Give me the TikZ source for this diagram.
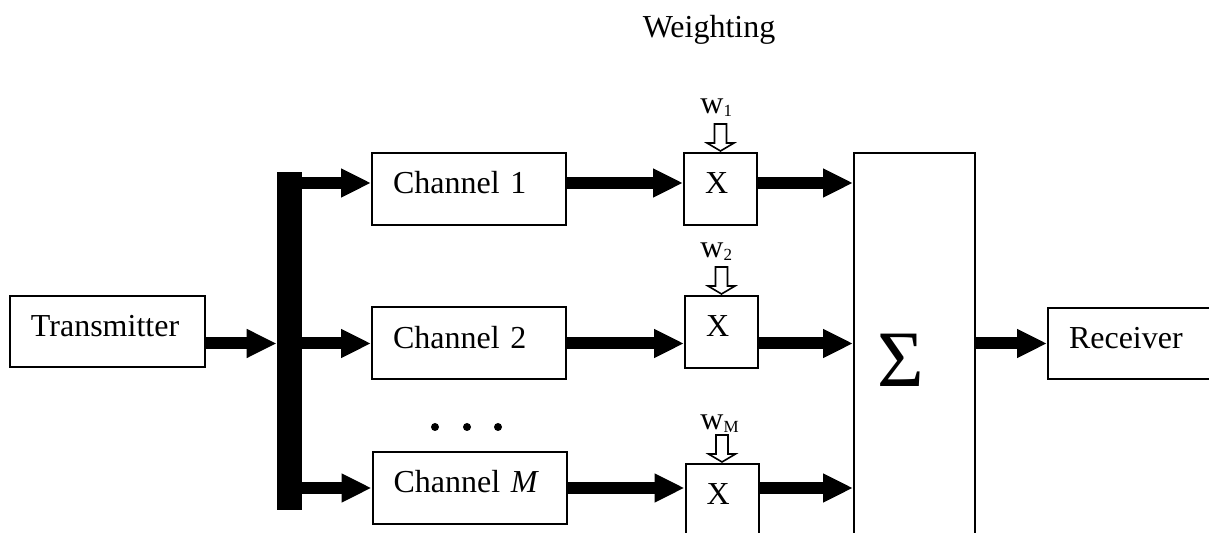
\documentclass[tikz,border=0pt]{standalone}
\usepackage{fontspec}
\setmainfont{Liberation Serif}
\usetikzlibrary{arrows.meta,calc}
\tikzset{
  blk/.style={draw, line width=1pt, rectangle, inner xsep=10.5pt, inner ysep=0pt,
    align=left, text height=11pt, text depth=6.4pt,
    font=\fontsize{16}{19}\selectfont},
  chbox/.style={blk, text width=76pt, minimum height=36pt},
  mulbox/.style={blk, text width=15.5pt, minimum height=36pt},
  bigarrow/.style={line width=6pt, -{Triangle[length=15pt,width=13.5pt]}},
  wlab/.style={inner sep=0pt, anchor=base west, font=\fontsize{16}{19}\selectfont},
  dotnode/.style={circle, fill=black, inner sep=0pt, minimum size=4pt},
  hollow/.style={draw, line width=0.8pt, fill=white}
}
\newcommand{\wsub}[1]{\raisebox{-1.2pt}{\fontsize{8.5}{9}\selectfont #1}}
\newcommand{\wgtarrow}[1]{\draw[hollow] ($(#1.north)+(0,1)$) -- ++(-13.5,8) -- ++(7.5,0) -- ++(0,19) -- ++(12,0) -- ++(0,-19) -- ++(7.5,0) -- cycle;}
\begin{document}
\begin{tikzpicture}[x=0.5pt,y=0.5pt]
\useasboundingbox (0,0) rectangle (1209,533);
\clip (0,0) rectangle (1209,533);

% title
\node[inner sep=0pt, anchor=base, font=\fontsize{16}{19}\selectfont] (title) at (709,495) {Weighting};

% blocks
\node[blk, text width=76.5pt, minimum height=35.5pt] (tx) at (107.5,201.5) {Transmitter};
\node[fill=black, inner sep=0pt, minimum width=12.5pt, minimum height=169pt] (bus) at (289.5,192) {};
\node[chbox] (ch1) at (469,344) {Channel 1};
\node[chbox] (ch2) at (469,189.5) {Channel 2};
\node[chbox] (chM) at (469.5,45) {Channel \textit{M}};

\node[dotnode] (d1) at (435,106) {};
\node[dotnode] (d2) at (467,106) {};
\node[dotnode] (d3) at (498,106) {};

\node[mulbox] (x1) at (720.5,344) {X};
\node[mulbox] (x2) at (721.5,201) {X};
\node[mulbox] (xM) at (722,33) {X};

\node[draw, line width=1pt, rectangle, inner xsep=11.5pt, inner ysep=0pt, align=left,
      text width=37.5pt, minimum height=207pt, font=\fontsize{40}{40}\selectfont] (sum) at (914.5,173) {Σ};

\node[blk, anchor=west, text width=80pt, minimum height=35.5pt] (rx) at (1047,189.5) {Receiver};

% weights
\node[wlab] (w1) at ($(x1.north)+(-20.5,38)$) {w\wsub{1}};
\node[wlab] (w2) at ($(x2.north)+(-21.5,37)$) {w\wsub{2}};
\node[wlab] (wM) at ($(xM.north)+(-22,33)$) {w\wsub{M}};
\wgtarrow{x1}
\wgtarrow{x2}
\wgtarrow{xM}

% row levels
\coordinate (r1) at ($(ch1.west)+(0,6)$);
\coordinate (r2) at (ch2.west);
\coordinate (rM) at (chM.west);

% connectors
\draw[bigarrow] (tx.east |- r2) -- (bus.west |- r2);
\draw[bigarrow] (bus.east |- r1) -- (ch1.west |- r1);
\draw[bigarrow] (bus.east |- r2) -- (ch2.west |- r2);
\draw[bigarrow] (bus.east |- rM) -- (chM.west |- rM);
\draw[bigarrow] (ch1.east |- r1) -- (x1.west |- r1);
\draw[bigarrow] (ch2.east |- r2) -- (x2.west |- r2);
\draw[bigarrow] (chM.east |- rM) -- (xM.west |- rM);
\draw[bigarrow] (x1.east |- r1) -- (sum.west |- r1);
\draw[bigarrow] (x2.east |- r2) -- (sum.west |- r2);
\draw[bigarrow] (xM.east |- rM) -- (sum.west |- rM);
\draw[bigarrow] (sum.east |- r2) -- (rx.west |- r2);
\end{tikzpicture}
\end{document}
